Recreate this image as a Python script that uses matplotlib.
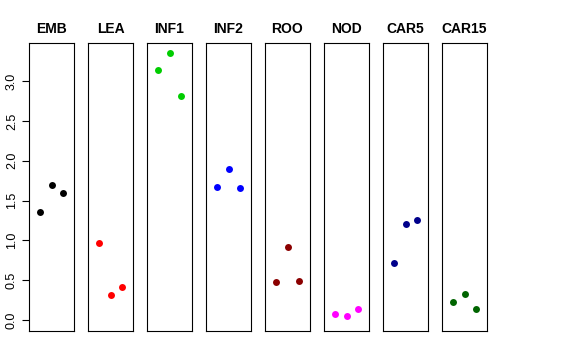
import numpy as np
import matplotlib
matplotlib.use('Agg')
import matplotlib.pyplot as plt

plt.rcParams['font.family'] = ['Liberation Sans', 'DejaVu Sans']

# tissues and their three replicate values
tissues = ['EMB', 'LEA', 'INF1', 'INF2', 'ROO', 'NOD', 'CAR5', 'CAR15']
emb = [1.36, 1.70, 1.59]
lea = [0.96, 0.31, 0.41]
inf1 = [3.14, 3.35, 2.82]
inf2 = [1.67, 1.90, 1.66]
roo = [0.47, 0.92, 0.49]
nod = [0.07, 0.05, 0.14]
car5 = [0.71, 1.21, 1.26]
car15 = [0.22, 0.33, 0.14]
values = [emb, lea, inf1, inf2, roo, nod, car5, car15]
colors = ['black', '#FF0000', '#00CD00', '#0000FF', '#8B0000', '#FF00FF', '#00008B', '#006400']
replicate = [1, 2, 3]

W, H = 576, 360
fig = plt.figure(figsize=(W / 100, H / 100), dpi=100)

for i in range(len(tissues)):
    left = (29 + 59 * i) / W
    ax = fig.add_axes([left, 1 - 331 / H, 45 / W, 288 / H])
    ax.plot(replicate, values[i], 'o', color=colors[i], markersize=5, markeredgewidth=0)
    ax.set_xlim(0, 4)
    ax.set_ylim(-0.14, 3.48)
    ax.set_xticks([])
    ax.set_title(tissues[i], fontsize=10, fontweight='bold', pad=7)
    for s in ax.spines.values():
        s.set_color('black')
        s.set_linewidth(0.8)
    if i == 0:
        ticks = np.arange(0, 3.01, 0.5)
        ax.set_yticks(ticks)
        ax.set_yticklabels(['%.1f' % v for v in ticks],
                           rotation=90, va='center', fontsize=9)
        ax.tick_params(axis='y', length=5, width=0.8, pad=3)
    else:
        ax.set_yticks([])

fig.savefig('out.png', dpi=100)
